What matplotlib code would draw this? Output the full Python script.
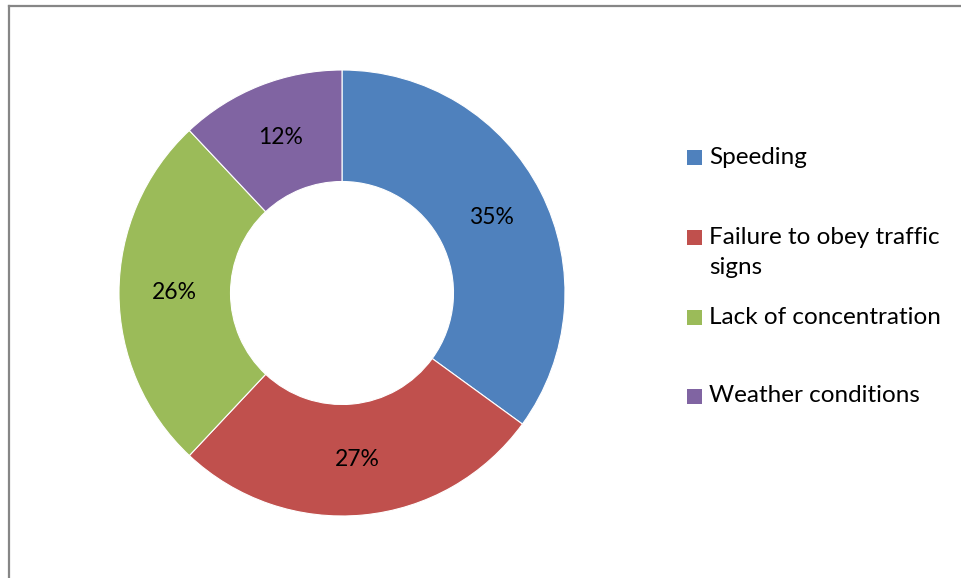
import matplotlib.pyplot as plt
from matplotlib.patches import Rectangle
from matplotlib.lines import Line2D

# Causes of road accidents (share of total, %)
causes = ['Speeding', 'Failure to obey traffic signs',
          'Lack of concentration', 'Weather conditions']
legend_lines = [['Speeding'], ['Failure to obey traffic', 'signs'],
                ['Lack of concentration'], ['Weather conditions']]
shares = [35, 27, 26, 12]
colors = ['#4F81BD', '#C0504D', '#9BBB59', '#8064A2']

W, H = 961, 578
plt.rcParams['font.family'] = ['Lato', 'DejaVu Sans']

fig = plt.figure(figsize=(W / 100, H / 100), dpi=100)
ax = fig.add_axes([0, 0, 1, 1])
ax.axis('off')

# chart frame (runs off the right and bottom edges)
ax.add_line(Line2D([8.5, 8.5], [-5, H - 5.5], color='#868686', lw=1.6))
ax.add_line(Line2D([8.5, W + 5], [H - 5.5, H - 5.5], color='#868686', lw=1.6))

cx, cy, r = 342, H - 293, 223
ax.pie(
    shares, colors=colors, center=(cx, cy), radius=r,
    startangle=90, counterclock=False,
    autopct='%d%%', pctdistance=0.75,
    wedgeprops=dict(width=r * 0.5, edgecolor='white', linewidth=0.8),
    textprops=dict(fontsize=16.5, color='black'),
)
ax.set_xlim(0, W)
ax.set_ylim(0, H)
ax.set_aspect('equal')

# legend drawn by hand to keep the uneven row spacing
legend_y = [157, 237, 317, 396]
for col, lines, y in zip(colors, legend_lines, legend_y):
    ax.add_patch(Rectangle((687, H - y - 7.5), 15, 15, facecolor=col,
                           edgecolor='none'))
    for i, line in enumerate(lines):
        ax.text(709, H - y - 31 * i, line, fontsize=17.5,
                va='center', ha='left')

fig.savefig('out.png', dpi=100, facecolor='white')
